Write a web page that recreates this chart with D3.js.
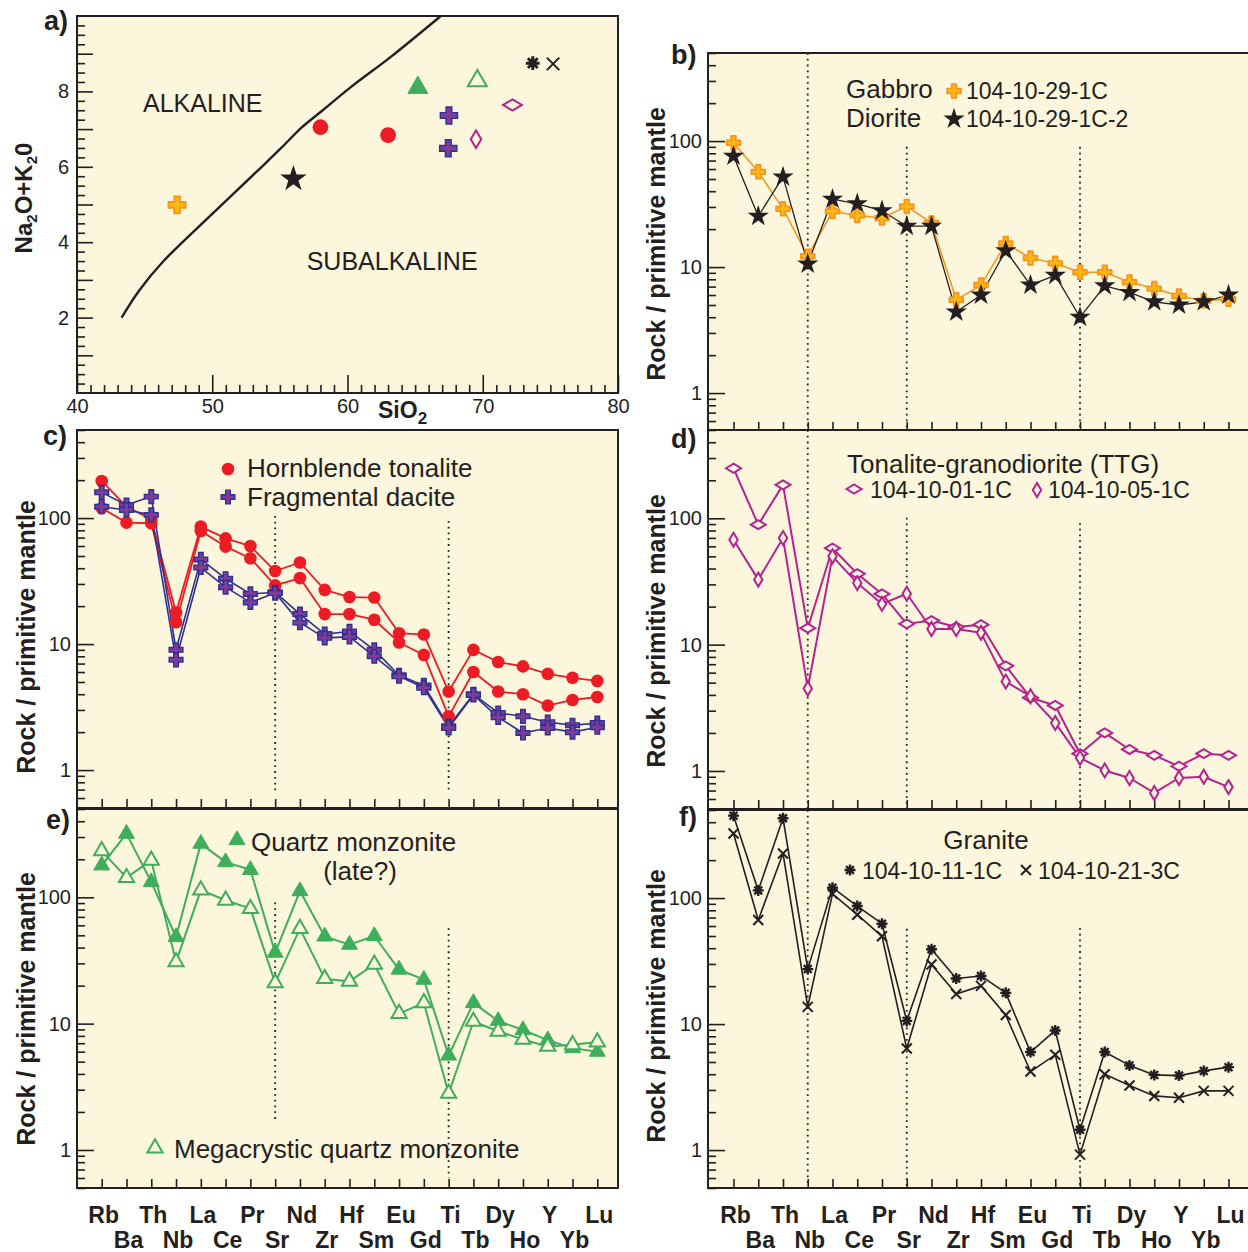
<!DOCTYPE html>
<html>
<head>
<meta charset="utf-8">
<script src="https://cdn.jsdelivr.net/npm/d3@7"></script>
<style>
body { margin: 0; background: #fff; }
text { font-family: "Liberation Sans", Arial, Helvetica, sans-serif; fill: #231f20; }
</style>
</head>
<body>
<div id="chart"></div>
<script>
// element order on the spider diagrams
var elements = ['Rb', 'Ba', 'Th', 'Nb', 'La', 'Ce', 'Pr', 'Sr', 'Nd', 'Zr', 'Hf',
                'Sm', 'Eu', 'Gd', 'Ti', 'Tb', 'Dy', 'Ho', 'Y', 'Yb', 'Lu'];

// panel a) TAS points
var silica = [47.4, 56.0, 58.0, 63.0, 65.2, 69.6, 67.5, 67.45, 72.2, 69.5, 73.7, 75.2];
var alkali = [4.99, 5.68, 7.05, 6.84, 8.10, 8.28, 7.36, 6.49, 7.64, 6.73, 8.75, 8.73];
var tasSymbols = ['gabbro', 'star', 'circle', 'circle', 'triFill', 'triOpen',
                  'cross', 'cross', 'diaWide', 'diaTall', 'asterisk', 'xmark'];
var boundarySilica = [43.3, 44.6, 46.4, 50.0, 53.6, 55.1, 56.6, 58.1, 60.2, 63.25, 66.9];
var boundaryAlkali = [2.0, 2.72, 3.5, 4.75, 5.98, 6.5, 7.04, 7.48, 8.1, 8.93, 10.0];

// panel b)
var gabbro = [97, 57, 29, 12.2, 27.7, 25.7, 24.5, 30.3, 22.4, 5.5, 7.2, 15.4, 11.8, 10.7,
              9.1, 9.1, 7.6, 6.75, 5.9, 5.4, 5.55];
var diorite = [76, 25.3, 52, 10.6, 34.6, 31.8, 28, 21.1, 21.1, 4.4, 6.0, 13.5, 7.2, 8.6,
               4.0, 7.1, 6.3, 5.3, 5.0, 5.3, 6.0];

// panel c)
var tonaliteA = [197, 123, 98, 17.8, 85.6, 69, 60, 38, 44.4, 26.9, 23.6, 23.4, 12.2, 11.9,
                 4.2, 9.0, 7.2, 6.65, 5.8, 5.4, 5.1];
var tonaliteB = [120, 92, 91, 14.9, 79, 59.4, 48, 29.2, 33.4, 17.3, 17.3, 15.6, 10.3, 8.2,
                 2.67, 6.0, 4.2, 4.0, 3.25, 3.6, 3.8];
var daciteA = [160, 127, 148, 9.0, 47, 33, 25, 25.8, 17.3, 12, 12.6, 9.0, 5.65, 4.7,
               2.23, 4.0, 2.84, 2.67, 2.4, 2.27, 2.36];
var daciteB = [123, 116, 106, 7.5, 40.5, 28.3, 21.4, 25.4, 14.8, 11.2, 11.4, 8.0, 5.55, 4.5,
               2.16, 3.95, 2.62, 1.97, 2.16, 2.0, 2.19];

// panel d)
var ttg01 = [249, 89, 184, 13.5, 58, 36.4, 25.2, 14.6, 15.5, 13.8, 14.4, 6.8, 3.8, 3.3,
             1.37, 2.0, 1.48, 1.33, 1.09, 1.37, 1.33];
var ttg05 = [67.6, 32.7, 69.7, 4.5, 50, 30.7, 21, 25.3, 13.3, 13.3, 12.4, 5.1, 3.9, 2.4,
             1.27, 1.01, 0.88, 0.67, 0.88, 0.9, 0.745];

// panel e)
var qmLate = [179, 319, 132, 48.5, 266, 190, 165, 36.5, 112, 49, 42.2, 49.4, 26.8, 22.3,
              5.6, 14.6, 10.5, 8.9, 7.4, 6.4, 6.0];
var qmMega = [233, 143, 196, 30.8, 114, 94.7, 81.3, 21, 56.5, 22.7, 21.6, 29.5, 12, 14.6,
              2.8, 10.4, 8.7, 7.5, 6.6, 6.8, 7.15];

// panel f)
var granite11 = [451, 115, 430, 27.3, 121, 86.4, 62.6, 10.6, 39.2, 23, 24.1, 17.7, 6.0, 8.9,
                 1.45, 6.0, 4.7, 3.95, 3.9, 4.25, 4.55];
var granite21 = [325, 67, 226, 13.7, 108, 73.8, 49.7, 6.4, 29.7, 17.3, 20.1, 11.8, 4.2, 5.7,
                 0.92, 4.0, 3.25, 2.69, 2.6, 2.95, 2.95];

var ink = '#231f20';
var cream = '#fcf6dc';
var orange = '#f7941d';
var red = '#ed1c24';
var blue = '#2e3192';
var magenta = '#b4238f';
var green = '#3fae5b';

var svg = d3.select('#chart')
            .append('svg')
            .attr('width', 1248)
            .attr('height', 1252)
            .style('display', 'block')
            .style('background', '#fff');

// k scales the marker (panel a uses bigger symbols)
function drawMarker(g, type, x, y, k) {
  k = k || 1;
  var a = k * k;
  var p = g.append('path')
           .attr('transform', 'translate(' + x + ',' + y + ')');
  if (type === 'circle') {
    p.attr('d', d3.symbol(d3.symbolCircle, 125 * a)()).attr('fill', red);
  } else if (type === 'gabbro') {
    p.attr('d', d3.symbol(d3.symbolCross, 105 * a)())
     .attr('fill', '#fdb913').attr('stroke', orange).attr('stroke-width', 1.8)
     .attr('stroke-linejoin', 'round');
  } else if (type === 'star') {
    p.attr('d', d3.symbol(d3.symbolStar, 140 * a)()).attr('fill', ink);
  } else if (type === 'cross') {
    p.attr('d', d3.symbol(d3.symbolCross, 105 * a)())
     .attr('fill', '#7d3c98').attr('stroke', blue).attr('stroke-width', 1.4);
  } else if (type === 'diaWide') {
    p.attr('d', 'M-7.5,0L0,-4.5L7.5,0L0,4.5Z')
     .attr('transform', 'translate(' + x + ',' + y + ') scale(' + k + ')')
     .attr('fill', cream).attr('stroke', magenta).attr('stroke-width', 2 / k);
  } else if (type === 'diaTall') {
    p.attr('d', 'M0,-7L4.2,0L0,7L-4.2,0Z')
     .attr('transform', 'translate(' + x + ',' + y + ') scale(' + k + ')')
     .attr('fill', cream).attr('stroke', magenta).attr('stroke-width', 2 / k);
  } else if (type === 'triFill') {
    p.attr('d', d3.symbol(d3.symbolTriangle, 110 * a)())
     .attr('fill', green).attr('stroke', green).attr('stroke-width', 1);
  } else if (type === 'triOpen') {
    p.attr('d', d3.symbol(d3.symbolTriangle, 100 * a)())
     .attr('fill', cream).attr('stroke', green).attr('stroke-width', 2);
  } else if (type === 'asterisk') {
    p.attr('d', 'M-5.5,0H5.5M0,-5.5V5.5M-3.9,-3.9L3.9,3.9M-3.9,3.9L3.9,-3.9')
     .attr('transform', 'translate(' + x + ',' + y + ') scale(' + k + ')')
     .attr('stroke', ink).attr('stroke-width', 2.4).attr('fill', 'none');
    g.append('circle').attr('cx', x).attr('cy', y).attr('r', 2.8 * k).attr('fill', ink);
  } else if (type === 'xmark') {
    p.attr('d', 'M-5,-5L5,5M-5,5L5,-5')
     .attr('transform', 'translate(' + x + ',' + y + ') scale(' + k + ')')
     .attr('stroke', ink).attr('stroke-width', 2 / k).attr('fill', 'none');
  }
}

function styleAxis(sel, size) {
  sel.select('.domain').remove();
  sel.attr('color', ink);
  sel.selectAll('line').attr('stroke-width', 1.6);
  sel.selectAll('text').attr('font-size', size);
}

// ---------- panel a) ----------
(function () {
  var left = 77, right = 618, top = 16, bottom = 393;
  var x = d3.scaleLinear().domain([40, 80]).range([left, right]);
  var y = d3.scaleLinear().domain([0, 10]).range([bottom, top]);
  var g = svg.append('g');

  g.append('rect').attr('x', left).attr('y', top)
   .attr('width', right - left).attr('height', bottom - top)
   .attr('fill', cream);

  var minorX = d3.range(41, 80).filter(function (d) { return d % 10 !== 0; });
  var minorY = d3.range(0.25, 10, 0.25).filter(function (d) { return d % 1 !== 0; });

  g.append('g').attr('transform', 'translate(0,' + bottom + ')')
   .call(d3.axisBottom(x).tickValues(minorX).tickSize(-8).tickFormat(''))
   .call(styleAxis, 20);
  g.append('g').attr('transform', 'translate(0,' + bottom + ')')
   .call(d3.axisBottom(x).tickValues([40, 50, 60, 70, 80]).tickSize(-18).tickPadding(6))
   .call(styleAxis, 20);

  g.append('g').attr('transform', 'translate(' + left + ',0)')
   .call(d3.axisLeft(y).tickValues(minorY).tickSize(-8).tickFormat(''))
   .call(styleAxis, 20);
  g.append('g').attr('transform', 'translate(' + left + ',0)')
   .call(d3.axisLeft(y).tickValues([1, 3, 5, 7, 9]).tickSize(-16).tickFormat(''))
   .call(styleAxis, 20);
  g.append('g').attr('transform', 'translate(' + left + ',0)')
   .call(d3.axisLeft(y).tickValues([2, 4, 6, 8]).tickSize(-16).tickPadding(8))
   .call(styleAxis, 20);

  var boundary = boundarySilica.map(function (s, i) { return [s, boundaryAlkali[i]]; });
  g.append('path')
   .datum(boundary)
   .attr('d', d3.line()
     .x(function (d) { return x(d[0]); })
     .y(function (d) { return y(d[1]); })
     .curve(d3.curveCatmullRom))
   .attr('fill', 'none').attr('stroke', ink).attr('stroke-width', 2.4);

  g.append('text').attr('x', x(49.3)).attr('y', y(7.46))
   .attr('text-anchor', 'middle').attr('font-size', 25).text('ALKALINE');
  g.append('text').attr('x', x(63.3)).attr('y', y(3.27))
   .attr('text-anchor', 'middle').attr('font-size', 25).text('SUBALKALINE');

  silica.forEach(function (s, i) {
    drawMarker(g, tasSymbols[i], x(s), y(alkali[i]), 1.25);
  });

  g.append('rect').attr('x', left).attr('y', top)
   .attr('width', right - left).attr('height', bottom - top)
   .attr('fill', 'none').attr('stroke', ink).attr('stroke-width', 2);

  var sio = g.append('text').attr('x', 378).attr('y', 418)
             .attr('font-size', 23).attr('font-weight', 'bold');
  sio.append('tspan').text('SiO');
  sio.append('tspan').attr('font-size', 17).attr('dy', 6).text('2');

  var na = g.append('text')
            .attr('transform', 'translate(32,198) rotate(-90)')
            .attr('text-anchor', 'middle')
            .attr('font-size', 24).attr('font-weight', 'bold');
  na.append('tspan').text('Na');
  na.append('tspan').attr('font-size', 15).attr('dy', 5).text('2');
  na.append('tspan').attr('dy', -5).text('O+K');
  na.append('tspan').attr('font-size', 15).attr('dy', 5).text('2');
  na.append('tspan').attr('dy', -5).text('0');

  g.append('text').attr('x', 44).attr('y', 30)
   .attr('font-size', 27).attr('font-weight', 'bold').text('a)');
})();

// ---------- spider panels ----------
function spiderPanel(cfg) {
  var x = d3.scalePoint().domain(elements).range(cfg.xRange);
  var y = d3.scaleLog().domain([0.5, 500]).range([cfg.bottom, cfg.top]);
  var g = svg.append('g');

  g.append('rect').attr('x', cfg.left).attr('y', cfg.top)
   .attr('width', cfg.right - cfg.left).attr('height', cfg.bottom - cfg.top)
   .attr('fill', cream);

  // dotted guides
  cfg.guides.forEach(function (gd) {
    g.append('line')
     .attr('x1', x(gd[0])).attr('x2', x(gd[0]))
     .attr('y1', y(gd[1])).attr('y2', y(gd[2]))
     .attr('stroke', ink).attr('stroke-width', 1.8)
     .attr('stroke-dasharray', '1.8,4');
  });

  var minor = [];
  [0.1, 1, 10, 100].forEach(function (dec) {
    d3.range(2, 10).forEach(function (m) {
      var v = m * dec;
      if (v >= 0.5 && v <= 500) minor.push(v);
    });
  });

  g.append('g').attr('transform', 'translate(' + cfg.left + ',0)')
   .call(d3.axisLeft(y).tickValues(minor).tickSize(-8).tickFormat(''))
   .call(styleAxis, 20);
  g.append('g').attr('transform', 'translate(' + cfg.left + ',0)')
   .call(d3.axisLeft(y).tickValues([1, 10, 100]).tickSize(-17).tickPadding(6)
         .tickFormat(d3.format('d')))
   .call(styleAxis, 20);
  g.append('g').attr('transform', 'translate(0,' + cfg.bottom + ')')
   .call(d3.axisBottom(x).tickSize(-9).tickFormat(''))
   .call(styleAxis, 20);

  var line = d3.line()
               .x(function (d, i) { return x(elements[i]); })
               .y(function (d) { return y(d); });

  cfg.series.forEach(function (s) {
    g.append('path').datum(s.values)
     .attr('d', line)
     .attr('fill', 'none').attr('stroke', s.color).attr('stroke-width', s.width || 1.8)
     .attr('stroke-linejoin', 'round');
  });
  cfg.series.forEach(function (s) {
    s.values.forEach(function (v, i) {
      drawMarker(g, s.symbol, x(elements[i]), y(v));
    });
  });

  g.append('rect').attr('x', cfg.left).attr('y', cfg.top)
   .attr('width', cfg.right - cfg.left).attr('height', cfg.bottom - cfg.top)
   .attr('fill', 'none').attr('stroke', ink).attr('stroke-width', 2);

  g.append('text')
   .attr('transform', 'translate(' + cfg.titleX + ',' + cfg.titleY + ') rotate(-90)')
   .attr('text-anchor', 'middle').attr('dy', '0.35em')
   .attr('font-size', 25).attr('font-weight', 'bold')
   .text('Rock / primitive mantle');

  g.append('text').attr('x', cfg.label[1]).attr('y', cfg.label[2])
   .attr('font-size', 27).attr('font-weight', 'bold').text(cfg.label[0]);

  if (cfg.xLabels) {
    elements.forEach(function (el, i) {
      g.append('text')
       .attr('x', x(el) + 2)
       .attr('y', i % 2 === 0 ? cfg.bottom + 35 : cfg.bottom + 60)
       .attr('text-anchor', 'middle')
       .attr('font-size', 23).attr('font-weight', 'bold')
       .text(el);
    });
  }
  cfg.legend(g);
}

function legendText(g, x, y, size, str, anchor) {
  g.append('text').attr('x', x).attr('y', y).attr('font-size', size)
   .attr('text-anchor', anchor || 'start').text(str);
}

var leftCol = { xRange: [101.7, 597.3], left: 77, right: 618, titleX: 26 };
var rightCol = { xRange: [733.5, 1228.5], left: 708, right: 1252, titleX: 656 };

// b)
spiderPanel(Object.assign({}, rightCol, {
  top: 53, bottom: 431, titleY: 244, label: ['b)', 671, 64],
  guides: [['Nb', 500, 0.5], ['Sr', 90, 0.5], ['Ti', 90, 0.5]],
  series: [
    { values: gabbro, color: orange, symbol: 'gabbro', width: 1.5 },
    { values: diorite, color: ink, symbol: 'star', width: 1.3 }
  ],
  legend: function (g) {
    legendText(g, 846, 98, 26, 'Gabbro');
    legendText(g, 846, 127, 26, 'Diorite');
    drawMarker(g, 'gabbro', 954, 91);
    drawMarker(g, 'star', 954, 119);
    legendText(g, 966, 99, 23, '104-10-29-1C');
    legendText(g, 966, 127, 23, '104-10-29-1C-2');
  }
}));

// c)
spiderPanel(Object.assign({}, leftCol, {
  top: 430, bottom: 808, titleY: 637, label: ['c)', 43, 445],
  guides: [['Sr', 104, 0.67], ['Ti', 95, 0.67]],
  series: [
    { values: tonaliteA, color: red, symbol: 'circle', width: 1.8 },
    { values: tonaliteB, color: red, symbol: 'circle', width: 1.8 },
    { values: daciteA, color: blue, symbol: 'cross', width: 1.6 },
    { values: daciteB, color: blue, symbol: 'cross', width: 1.6 }
  ],
  legend: function (g) {
    drawMarker(g, 'circle', 228, 469);
    drawMarker(g, 'cross', 228, 497);
    legendText(g, 247, 477, 26, 'Hornblende tonalite');
    legendText(g, 247, 506, 26, 'Fragmental dacite');
  }
}));

// d)
spiderPanel(Object.assign({}, rightCol, {
  top: 430, bottom: 809, titleY: 631, label: ['d)', 671, 448],
  guides: [['Nb', 500, 0.5], ['Sr', 101, 0.5], ['Ti', 92, 0.5]],
  series: [
    { values: ttg01, color: magenta, symbol: 'diaWide', width: 2 },
    { values: ttg05, color: magenta, symbol: 'diaTall', width: 2 }
  ],
  legend: function (g) {
    legendText(g, 847, 473, 26, 'Tonalite-granodiorite (TTG)');
    drawMarker(g, 'diaWide', 854, 489);
    legendText(g, 870, 498, 23, '104-10-01-1C');
    drawMarker(g, 'diaTall', 1037, 490);
    legendText(g, 1048, 498, 23, '104-10-05-1C');
  }
}));

// e)
spiderPanel(Object.assign({}, leftCol, {
  top: 809, bottom: 1188, titleY: 1009, label: ['e)', 46, 829], xLabels: true,
  guides: [['Sr', 91, 1.7], ['Ti', 57, 0.6]],
  series: [
    { values: qmLate, color: green, symbol: 'triFill', width: 2 },
    { values: qmMega, color: green, symbol: 'triOpen', width: 2 }
  ],
  legend: function (g) {
    drawMarker(g, 'triFill', 237, 840);
    legendText(g, 251, 851, 26, 'Quartz monzonite');
    legendText(g, 360, 880, 26, '(late?)', 'middle');
    drawMarker(g, 'triOpen', 155, 1148);
    legendText(g, 174, 1158, 26, 'Megacrystic quartz monzonite');
  }
}));

// f)
spiderPanel(Object.assign({}, rightCol, {
  top: 810, bottom: 1188, titleY: 1006, label: ['f)', 679, 826], xLabels: true,
  guides: [['Nb', 500, 0.5], ['Sr', 57, 0.5], ['Ti', 58, 0.5]],
  series: [
    { values: granite11, color: ink, symbol: 'asterisk', width: 1.6 },
    { values: granite21, color: ink, symbol: 'xmark', width: 1.6 }
  ],
  legend: function (g) {
    legendText(g, 986, 849, 26, 'Granite', 'middle');
    drawMarker(g, 'asterisk', 850, 870);
    legendText(g, 862, 879, 23, '104-10-11-1C');
    drawMarker(g, 'xmark', 1026, 870);
    legendText(g, 1038, 879, 23, '104-10-21-3C');
  }
}));
</script>
</body>
</html>
